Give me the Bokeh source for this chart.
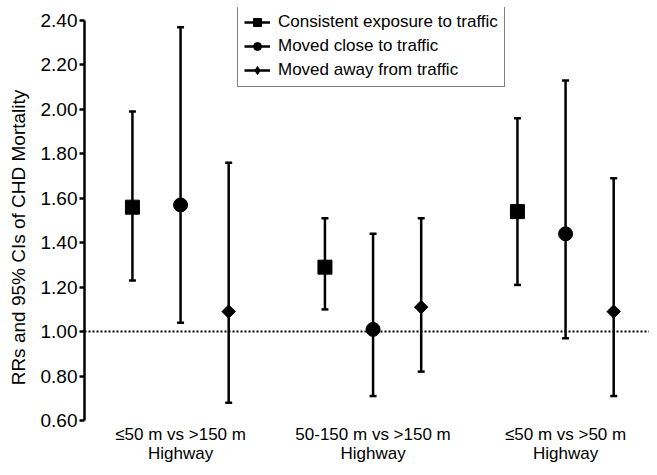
from bokeh.plotting import figure
from bokeh.models import (ColumnDataSource, Whisker, TeeHead, Span, Legend, LegendItem,
                          FixedTicker, NumeralTickFormatter, Range1d)
from bokeh.core.properties import value
from bokeh.embed import file_html
from bokeh.resources import INLINE
import math

# ---- data ----
categories = ["\u226450 m vs >150 m\nHighway", "50-150 m vs >150 m\nHighway", "\u226450 m vs >50 m\nHighway"]
category_x = [1, 2, 3]
series = ["Consistent exposure to traffic", "Moved close to traffic", "Moved away from traffic"]
consistent_rr = [1.56, 1.29, 1.54]
consistent_lo = [1.23, 1.10, 1.21]
consistent_hi = [1.99, 1.51, 1.96]
close_rr = [1.57, 1.01, 1.44]
close_lo = [1.04, 0.71, 0.97]
close_hi = [2.37, 1.44, 2.13]
away_rr = [1.09, 1.11, 1.09]
away_lo = [0.68, 0.82, 0.71]
away_hi = [1.76, 1.51, 1.69]
y_ticks = [0.6, 0.8, 1.0, 1.2, 1.4, 1.6, 1.8, 2.0, 2.2, 2.4]
y_min, y_max = 0.6, 2.4
reference_rr = 1.0

FONT = "Liberation Sans"

# frame: 2.40 at 13px below frame top, 0.60 at 47px above frame bottom
px_per_unit = 400 / (y_max - y_min)
p = figure(width=649, height=467, output_backend="svg", toolbar_location=None,
           x_range=Range1d(0.501, 3.436),
           y_range=Range1d(y_min - 47 / px_per_unit, y_max + 13 / px_per_unit),
           min_border_left=84, min_border_right=0, min_border_top=7, min_border_bottom=0)
p.outline_line_color = None
p.xgrid.visible = False
p.ygrid.visible = False
p.xaxis.visible = False
p.background_fill_color = "white"

# reference line
p.add_layout(Span(location=reference_rr, dimension="width", line_color="black",
                  line_width=2, line_dash="2 2"))

offsets = [-0.25, 0.0, 0.25]
data = [(consistent_rr, consistent_lo, consistent_hi),
        (close_rr, close_lo, close_hi),
        (away_rr, away_lo, away_hi)]

items = []
for k, ((rr, lo, hi), off, name) in enumerate(zip(data, offsets, series)):
    xs = [c + off for c in category_x]
    src = ColumnDataSource(dict(x=xs, rr=rr, lo=lo, hi=hi))
    seg = p.segment(x0="x", y0="lo", x1="x", y1="hi", source=src,
                    line_color="black", line_width=2.5)
    w = Whisker(source=src, base="x", lower="lo", upper="hi", line_alpha=0,
                upper_head=TeeHead(size=7, line_width=2.5, line_color="black"),
                lower_head=TeeHead(size=7, line_width=2.5, line_color="black"))
    p.add_layout(w)
    if k == 0:
        mk = p.scatter(x="x", y="rr", source=src, marker="square", size=14,
                       fill_color="black", line_color="black")
    elif k == 1:
        mk = p.scatter(x="x", y="rr", source=src, marker="circle", size=14,
                       fill_color="black", line_color="black")
    else:
        # diamond (used by the legend) covered by a rotated square of the same height
        mk = p.scatter(x="x", y="rr", source=src, marker="diamond", size=13,
                       fill_color="black", line_color="black")
        p.scatter(x="x", y="rr", source=src, marker="square", size=9.5, angle=math.pi / 4,
                  fill_color="black", line_color="black")
    items.append(LegendItem(label=name, renderers=[seg, mk]))

legend = Legend(items=items, location=(153, 380), orientation="vertical",
                label_text_font=FONT, label_text_font_size="17px", label_text_color="black",
                glyph_width=26, glyph_height=20, label_height=20, spacing=4, padding=6,
                label_standoff=8, margin=0,
                border_line_color="black", border_line_width=1.5,
                background_fill_color="white", background_fill_alpha=1.0)
p.add_layout(legend, "center")

# category labels under the axis end
p.text(x=category_x, y=[y_min] * len(category_x), text=categories,
       text_font=value(FONT), text_font_size="17px", text_color="black",
       text_align="center", text_baseline="top", text_line_height=1.0, y_offset=4)

# y axis
yax = p.yaxis[0]
yax.bounds = (y_min, y_max)
yax.ticker = FixedTicker(ticks=y_ticks)
yax.formatter = NumeralTickFormatter(format="0.00")
yax.axis_label = "RRs and 95% CIs of CHD Mortality"
yax.axis_label_text_font = FONT
yax.axis_label_text_font_size = "19px"
yax.axis_label_text_font_style = "normal"
yax.axis_label_text_color = "black"
yax.axis_label_standoff = 9
yax.major_label_text_font = FONT
yax.major_label_text_font_size = "19px"
yax.major_label_text_color = "black"
yax.major_label_standoff = 2
yax.axis_line_width = 2.5
yax.axis_line_color = "black"
yax.major_tick_line_width = 2.5
yax.major_tick_line_color = "black"
yax.major_tick_out = 5
yax.major_tick_in = 0
yax.minor_tick_line_color = None

open("out.html", "w").write(file_html(p, INLINE))
